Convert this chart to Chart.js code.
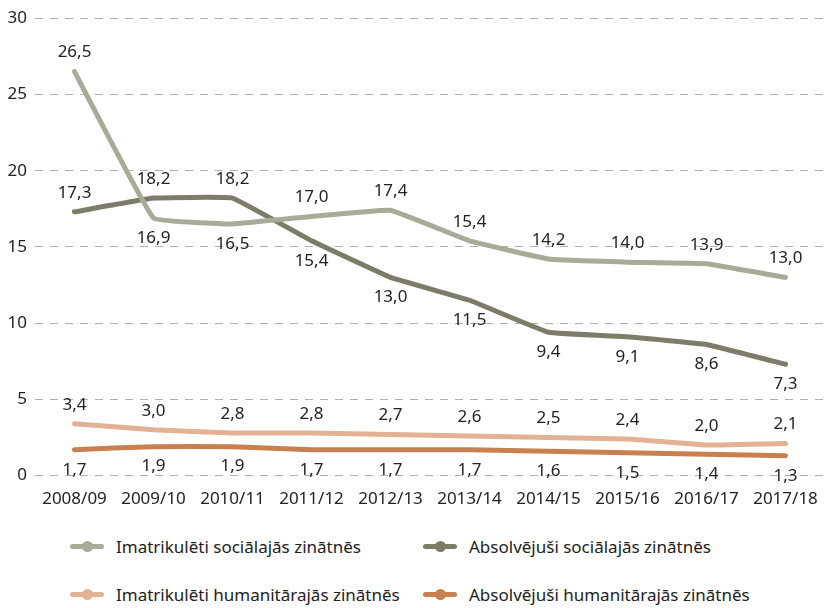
<!DOCTYPE html>
<html>
<head>
<meta charset="utf-8">
<script src="https://cdn.jsdelivr.net/npm/chart.js@4/dist/chart.umd.min.js"></script>
<style>
  body { margin: 0; background: #fff; font-family: "Noto Sans", sans-serif; color: #222; }
  #wrap { position: relative; width: 831px; height: 514px; }
  #legend { position: relative; width: 831px; height: 94px; }
  .item { position: absolute; display: flex; align-items: center; font-size: 17px; }
  .mark { position: relative; width: 34px; height: 5px; border-radius: 3px; margin-right: 12px; }
  .mark::after { content: ""; position: absolute; left: 12px; top: -3px; width: 11px; height: 11px; border-radius: 50%; background: inherit; }
</style>
</head>
<body>
<div id="wrap"><canvas id="myChart" width="831" height="514"></canvas></div>
<div id="legend"></div>
<script>
const years = ['2008/09', '2009/10', '2010/11', '2011/12', '2012/13', '2013/14', '2014/15', '2015/16', '2016/17', '2017/18'];

const imatSoc = [26.5, 16.9, 16.5, 17.0, 17.4, 15.4, 14.2, 14.0, 13.9, 13.0];
const absSoc = [17.3, 18.2, 18.2, 15.4, 13.0, 11.5, 9.4, 9.1, 8.6, 7.3];
const imatHum = [3.4, 3.0, 2.8, 2.8, 2.7, 2.6, 2.5, 2.4, 2.0, 2.1];
const absHum = [1.7, 1.9, 1.9, 1.7, 1.7, 1.7, 1.6, 1.5, 1.4, 1.3];

const seriesNames = ['Imatrikulēti sociālajās zinātnēs', 'Absolvējuši sociālajās zinātnēs', 'Imatrikulēti humanitārajās zinātnēs', 'Absolvējuši humanitārajās zinātnēs'];
const yTicks = [0, 5, 10, 15, 20, 25, 30];

// where the value label sits: above (a) or below (b) the point
const labelPos = [
  ['a', 'b', 'b', 'a', 'a', 'a', 'a', 'a', 'a', 'a'],
  ['a', 'a', 'a', 'b', 'b', 'b', 'b', 'b', 'b', 'b'],
  ['a', 'a', 'a', 'a', 'a', 'a', 'a', 'a', 'a', 'a'],
  ['b', 'b', 'b', 'b', 'b', 'b', 'b', 'b', 'b', 'b']
];

const colors = ['#a9ab98', '#7c7c68', '#e3b193', '#c8804f'];

// value labels plugin
const valueLabels = {
  id: 'valueLabels',
  afterDatasetsDraw(chart) {
    const ctx = chart.ctx;
    ctx.save();
    ctx.font = '17px "Noto Sans"';
    ctx.fillStyle = '#222';
    ctx.textAlign = 'center';
    ctx.textBaseline = 'middle';
    chart.data.datasets.forEach((ds, di) => {
      const meta = chart.getDatasetMeta(di);
      meta.data.forEach((pt, i) => {
        const txt = ds.data[i].toFixed(1).replace('.', ',');
        const dy = labelPos[di][i] == 'a' ? -19 : 20;
        ctx.fillText(txt, pt.x, pt.y + dy);
      });
    });
    ctx.restore();
  }
};

const datasets = [imatSoc, absSoc, imatHum, absHum].map((d, i) => ({
  label: seriesNames[i],
  data: d,
  borderColor: colors[i],
  backgroundColor: colors[i],
  borderWidth: 5,
  borderCapStyle: 'round',
  borderJoinStyle: 'round',
  pointRadius: 0,
  tension: 0.07
}));

new Chart(document.getElementById('myChart'), {
  type: 'line',
  data: { labels: years, datasets: datasets },
  options: {
    responsive: false,
    animation: false,
    layout: { padding: { top: 7, right: 6, left: 0, bottom: 0 } },
    plugins: { legend: { display: false }, tooltip: { enabled: false } },
    scales: {
      x: {
        offset: true,
        grid: { display: false },
        border: { display: false },
        ticks: { color: '#222', font: { family: 'Noto Sans', size: 17 }, maxRotation: 0, autoSkip: false, padding: 5 }
      },
      y: {
        min: 0,
        max: 30,
        afterBuildTicks: (axis) => { axis.ticks = yTicks.map(v => ({ value: v })); },
        afterFit: (axis) => { axis.width = 35; },
        grid: { color: '#b0b0b0', lineWidth: 1, drawTicks: false },
        border: { display: false, dash: [8, 7] },
        ticks: { color: '#222', font: { family: 'Noto Sans', size: 17 }, autoSkip: false, padding: 8 }
      }
    }
  },
  plugins: [valueLabels]
});

// legend in two columns
const legend = document.getElementById('legend');
const spots = [[70, 33], [423, 33], [70, 81], [423, 81]];
seriesNames.forEach((name, i) => {
  const it = document.createElement('div');
  it.className = 'item';
  it.style.left = spots[i][0] + 'px';
  it.style.top = (spots[i][1] - 12) + 'px';
  it.innerHTML = `<span class="mark" style="background:${colors[i]}"></span><span>${name}</span>`;
  legend.appendChild(it);
});
</script>
</body>
</html>
